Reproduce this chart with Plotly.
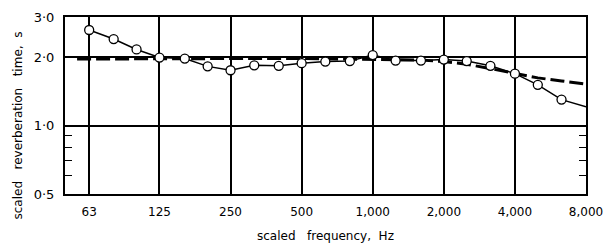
import plotly.graph_objects as go

freq = [63, 80, 100, 125, 160, 200, 250, 315, 400, 500, 630, 800,
        1000, 1250, 1600, 2000, 2500, 3150, 4000, 5000, 6300, 8000]
rt_measured = [2.63, 2.40, 2.16, 1.99, 1.97, 1.82, 1.75, 1.84, 1.83, 1.88, 1.91, 1.92,
               2.04, 1.93, 1.93, 1.95, 1.92, 1.83, 1.69, 1.51, 1.30, 1.21]
freq_ref = [56, 125, 250, 500, 1000, 1600, 2000, 2500, 3150, 4000, 5000, 6300, 8000]
rt_ref = [1.96, 1.97, 1.97, 1.97, 1.96, 1.94, 1.91, 1.86, 1.78, 1.70, 1.62, 1.57, 1.52]

x_ticks = [63, 125, 250, 500, 1000, 2000, 4000, 8000]
x_labels = ["63", "125", "250", "500", "1,000", "2,000", "4,000", "8,000"]
y_ticks = [0.5, 1.0, 2.0, 3.0]
y_labels = ["0·5", "1·0", "2·0", "3·0"]
y_minor = [0.6, 0.7, 0.8, 0.9]

FONT = "DejaVu Sans"

fig = go.Figure()
fig.add_trace(go.Scatter(
    x=freq_ref, y=rt_ref, mode="lines",
    line=dict(color="black", width=3, dash="14px,5px"),
    hoverinfo="skip", showlegend=False))
fig.add_trace(go.Scatter(
    x=freq, y=rt_measured, mode="lines+markers",
    line=dict(color="black", width=1.5),
    marker=dict(symbol="circle", size=9, color="white",
                line=dict(color="black", width=1.3)),
    showlegend=False, cliponaxis=False))

fig.update_layout(
    width=607, height=246,
    margin=dict(l=65, r=21, t=17, b=52),
    paper_bgcolor="white", plot_bgcolor="white",
    font=dict(family=FONT, color="black"),
    xaxis=dict(type="log", range=[1.697, 3.903], automargin=False,
               tickvals=x_ticks, ticktext=x_labels,
               showgrid=True, gridcolor="black", gridwidth=1.5,
               showline=True, linecolor="black", linewidth=2, mirror=True,
               ticks="", tickfont=dict(size=12, family=FONT),
               ticklabelstandoff=6, zeroline=False),
    yaxis=dict(type="log", range=[-0.30103, 0.47712], automargin=False,
               tickvals=y_ticks, ticktext=y_labels,
               showgrid=True, gridcolor="black", gridwidth=1.5,
               showline=True, linecolor="black", linewidth=2, mirror="ticks",
               ticks="inside", ticklen=0, tickcolor="black",
               tickfont=dict(size=13, family=FONT), ticklabelstandoff=6,
               minor=dict(tickvals=y_minor, ticks="inside", ticklen=7,
                          tickcolor="black", tickwidth=1.3, showgrid=False),
               zeroline=False),
)

fig.add_annotation(
    text="scaled   reverberation   time,  s", textangle=-90,
    xref="paper", yref="paper", x=0, y=0.5,
    xanchor="center", yanchor="middle", xshift=-48, yshift=-20,
    showarrow=False, font=dict(size=12, family=FONT))
fig.add_annotation(
    text="scaled   frequency,  Hz",
    xref="paper", yref="paper", x=0.5, y=0, yshift=-42,
    xanchor="center", yanchor="middle",
    showarrow=False, font=dict(size=12, family=FONT))

fig.write_html("out.html", config={"displayModeBar": False},
               post_script="document.body.style.margin='0';")
